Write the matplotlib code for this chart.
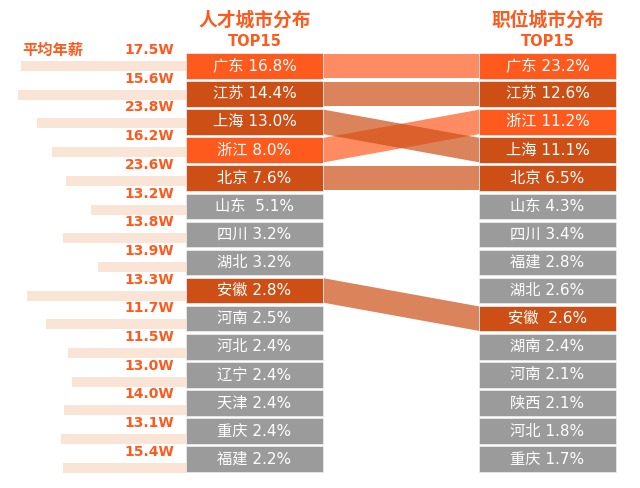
import matplotlib
matplotlib.use("Agg")
import matplotlib.pyplot as plt

plt.rcParams['font.family'] = ['Noto Sans CJK SC', 'DejaVu Sans']

# left column: talent distribution
talent_cities = ['广东', '江苏', '上海', '浙江', '北京', '山东', '四川', '湖北',
                 '安徽', '河南', '河北', '辽宁', '天津', '重庆', '福建']
talent_pct = [16.8, 14.4, 13.0, 8.0, 7.6, 5.1, 3.2, 3.2, 2.8, 2.5, 2.4, 2.4, 2.4, 2.4, 2.2]

# average salary labels and the length of the pale bars next to them
salary = [17.5, 15.6, 23.8, 16.2, 23.6, 13.2, 13.8, 13.9, 13.3, 11.7, 11.5, 13.0, 14.0, 13.1, 15.4]
salary_bar = [165, 168, 149, 134, 120, 95, 123, 88, 159, 140, 118, 114, 122, 125, 123]

# right column: job distribution
job_cities = ['广东', '江苏', '浙江', '上海', '北京', '山东', '四川', '福建',
              '湖北', '安徽', '湖南', '河南', '陕西', '河北', '重庆']
job_pct = [23.2, 12.6, 11.2, 11.1, 6.5, 4.3, 3.4, 2.8, 2.6, 2.6, 2.4, 2.1, 2.1, 1.8, 1.7]

bright_cities = ['广东', '浙江']
dark_cities = ['江苏', '上海', '北京', '安徽']
wide_gap = [('L', '山东'), ('R', '安徽')]

ORANGE = '#FE5A1E'
DARK = '#CD4F15'
GREY = '#9B9B9B'
PALE = '#F9E4D6'

# layout (pixel units)
row0 = 53
pitch = 28.1
box_h = 25.5
left_x, right_x, box_w = 186, 479, 137
bar_row0 = 66
bar_pitch = 28.7

MIXED = ['DejaVu Sans', 'Noto Sans CJK SC']


def city_color(c):
    if c in bright_cities:
        return ORANGE
    if c in dark_cities:
        return DARK
    return GREY


def row_center(i):
    return row0 + pitch * i + box_h / 2


fig = plt.figure(figsize=(6.4, 4.88), dpi=100)
ax = fig.add_axes([0, 0, 1, 1])
ax.set_xlim(0, 640)
ax.set_ylim(488, 0)
ax.axis('off')

# salary bars + labels
for i in range(len(salary)):
    yc = bar_row0 + bar_pitch * i
    ax.barh(yc, salary_bar[i], left=left_x - salary_bar[i], height=10, color=PALE)
    ax.text(174, yc - 16, f"{salary[i]:.1f}W", ha='right', va='center',
            color=ORANGE, fontsize=10, fontweight='bold', family='DejaVu Sans')
ax.text(22, 50, '平均年薪', ha='left', va='center', color=ORANGE,
        fontsize=11, fontweight='bold')

# boxes
for side, cities, pct, x0 in [('L', talent_cities, talent_pct, left_x),
                              ('R', job_cities, job_pct, right_x)]:
    for i, c in enumerate(cities):
        yc = row_center(i)
        ax.barh(yc, box_w, left=x0, height=box_h, color=city_color(c),
                edgecolor='#E8E8E8', linewidth=0.6)
        gap = '  ' if (side, c) in wide_gap else ' '
        ax.text(x0 + box_w / 2, yc, f"{c}{gap}{pct[i]:.1f}%", ha='center', va='center',
                color='white', fontsize=11, family=MIXED)

# connecting bands for highlighted cities
for c in bright_cities + dark_cities:
    i = talent_cities.index(c)
    j = job_cities.index(c)
    yl = row_center(i)
    yr = row_center(j)
    hh = box_h / 2 - 0.5
    ax.fill([left_x + box_w + 1, right_x, right_x, left_x + box_w + 1],
            [yl - hh, yr - hh, yr + hh, yl + hh],
            color=city_color(c), alpha=0.7, linewidth=0)

# titles
for xc, title in [(left_x + box_w / 2, '人才城市分布'), (right_x + box_w / 2, '职位城市分布')]:
    ax.text(xc, 20, title, ha='center', va='center', color=ORANGE,
            fontsize=13.5, fontweight='bold')
    ax.text(xc, 42, 'TOP15', ha='center', va='center', color=ORANGE,
            fontsize=10.5, fontweight='bold', family='DejaVu Sans')

fig.savefig('out.png', dpi=100, facecolor='white')
